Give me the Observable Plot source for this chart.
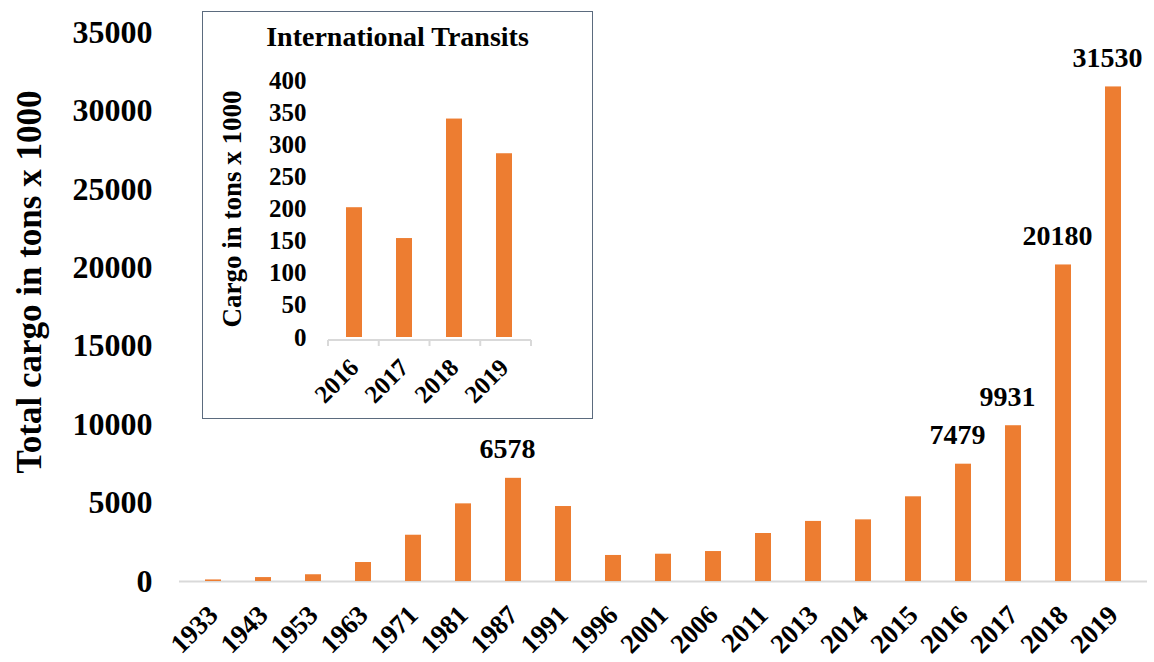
<!DOCTYPE html>
<html><head><meta charset="utf-8">
<script src="https://cdn.jsdelivr.net/npm/d3@7"></script>
<script src="https://cdn.jsdelivr.net/npm/@observablehq/plot@0.6"></script>
<style>
body{margin:0;background:#fff;}
#root{position:relative;width:1154px;height:662px;overflow:hidden;}
#inset{position:absolute;left:203px;top:12px;width:389px;height:406px;outline:1.5px solid #5b6b7e;background:#fff;}
#inset-title{position:absolute;left:0;right:0;top:11px;text-align:center;font:bold 28px "Liberation Serif","Times New Roman",serif;line-height:28px;color:#000;}
</style></head><body><div id="root"><div id="main"></div><div id="inset"></div></div>
<script>
const years = ["1933","1943","1953","1963","1971","1981","1987","1991","1996","2001","2006","2011","2013","2014","2015","2016","2017","2018","2019"];
const cargo = [100,250,430,1210,2950,4950,6578,4780,1660,1740,1910,3060,3830,3930,5400,7479,9931,20180,31530];
const labeledYears = ["1987","2016","2017","2018","2019"];
const yTicks = [0,5000,10000,15000,20000,25000,30000,35000];
const yLabel = "Total cargo in tons x 1000";

const insetTitle = "International Transits";
const insetYears = ["2016","2017","2018","2019"];
const insetCargo = [202,154,340,286];
const insetTicks = [0,50,100,150,200,250,300,350,400];
const insetLabel = "Cargo in tons x 1000";

const serif = '"Liberation Serif", "Times New Roman", serif';
const orange = "#ed7d31";
const axisGray = "#d9d9d9";
const plain = d => String(d);

const data = years.map((year, i) => ({year, value: cargo[i]}));
const insetData = insetYears.map((year, i) => ({year, value: insetCargo[i]}));

const main = Plot.plot({
  width: 1154, height: 662,
  marginTop: 32, marginBottom: 81, marginLeft: 179, marginRight: 7,
  style: {fontFamily: serif, background: "#fff", color: "#000"},
  x: {type: "band", domain: years, paddingInner: 0.67, paddingOuter: 0.335},
  y: {domain: [0, 35000]},
  marks: [
    Plot.ruleY([0], {stroke: axisGray, strokeWidth: 2}),
    Plot.barY(data, {x: "year", y: "value", fill: orange}),
    Plot.axisY(yTicks, {tickSize: 0, tickPadding: 27, fontSize: 32, fontWeight: "bold", label: null, tickFormat: plain}),
    Plot.axisX({tickSize: 0, tickPadding: 29, tickRotate: -45, fontSize: 27, fontWeight: "bold", label: null}),
    Plot.text(data.filter(d => labeledYears.includes(d.year)), {
      x: "year", y: "value", text: d => String(d.value),
      dy: -20, dx: -6, lineAnchor: "bottom", fontSize: 28, fontWeight: "bold", fill: "#000"
    }),
    Plot.text([yLabel], {frameAnchor: "left", textAnchor: "middle", rotate: -90, dx: -150, dy: -25, fontSize: 35, fontWeight: "bold", fill: "#000"})
  ]
});
document.getElementById("main").appendChild(main);

function insetAxisLine(index, scales) {
  const x = scales.x, y = scales.y;
  const [r0, r1] = x.range();
  const n = x.domain().length;
  const step = (r1 - r0) / n;
  const y0 = y(0) + 3;
  const g = d3.create("svg:g").attr("stroke", axisGray).attr("stroke-width", 2);
  g.append("line").attr("x1", r0).attr("x2", r1).attr("y1", y0).attr("y2", y0);
  for (let i = 0; i <= n; i++) {
    const xx = r0 + i * step;
    g.append("line").attr("x1", xx).attr("x2", xx).attr("y1", y0).attr("y2", y0 + 6);
  }
  return g.node();
}

const inset = Plot.plot({
  width: 389, height: 406,
  marginTop: 68, marginBottom: 81, marginLeft: 125, marginRight: 61,
  style: {fontFamily: serif, background: "transparent", color: "#000"},
  x: {type: "band", domain: insetYears, paddingInner: 0.67, paddingOuter: 0.335},
  y: {domain: [0, 400]},
  marks: [
    Plot.barY(insetData, {x: "year", y: "value", fill: orange}),
    insetAxisLine,
    Plot.axisY(insetTicks, {tickSize: 0, tickPadding: 22, fontSize: 25, fontWeight: "bold", label: null, tickFormat: plain}),
    Plot.axisX({tickSize: 0, tickPadding: 26, tickRotate: -45, fontSize: 25, fontWeight: "bold", label: null}),
    Plot.text([insetLabel], {frameAnchor: "left", textAnchor: "middle", rotate: -90, dx: -96, fontSize: 27, fontWeight: "bold", fill: "#000"})
  ]
});
const insetDiv = document.getElementById("inset");
insetDiv.appendChild(inset);
const t = document.createElement("div");
t.id = "inset-title";
t.textContent = insetTitle;
insetDiv.appendChild(t);
</script>
</body></html>
